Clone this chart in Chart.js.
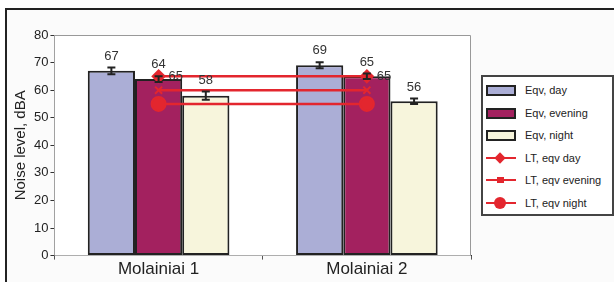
<!DOCTYPE html>
<html>
<head>
<meta charset="utf-8">
<script src="https://cdn.jsdelivr.net/npm/chart.js@4/dist/chart.umd.min.js"></script>
<style>
	html, body { margin: 0; padding: 0; background: #fff; }
	#wrap { position: relative; width: 614px; height: 282px; overflow: hidden; }
	#frame { position: absolute; left: 5px; top: 8px; width: 620px; height: 290px;
		border-top: 2px solid #222; border-left: 2px solid #222; background: #fbfbfb; }
	#resultGraph { position: absolute; left: 0; top: 0; }
	#legend { position: absolute; left: 481px; top: 75px; width: 129px; height: 137px;
		border: 2px solid #444; background: #fff; font-family: 'Liberation Sans', Arial, sans-serif;
		font-size: 11px; color: #222; }
	.item { position: absolute; left: 3px; height: 14px; line-height: 14px; white-space: nowrap; }
	.sw { position: absolute; left: 0; top: 2px; width: 26px; height: 7px; border: 2px solid #222; }
	.ln { position: absolute; left: 0; top: 6px; width: 30px; height: 2px; background: #e3262e; }
	.mk { position: absolute; background: #e3262e; }
	.txt { position: absolute; left: 39px; top: 0; }
</style>
</head>
<body>
<div id="wrap">
	<div id="frame"></div>
	<canvas id="resultGraph" width="614" height="282"></canvas>
	<div id="legend"></div>
</div>
<script>
'use strict';

const categories = ['Molainiai 1', 'Molainiai 2'];
const eqvDay = [67, 69];
const eqvEvening = [64, 65];
const eqvNight = [58, 56];
const errDay = [1.2, 1.1];
const errEvening = [1, 1];
const errNight = [1.5, 1];
const ltDay = [65, 65];
const ltEvening = [60, 60];
const ltNight = [55, 55];
const yMin = 0;
const yMax = 80;
const yStep = 10;

const red = '#e3262e';
const ink = '#222';

// error bars + value labels
const extras = {
	id: 'extras',
	beforeDatasetsDraw(chart) {
		const a = chart.chartArea;
		const c = chart.ctx;
		c.save();
		c.fillStyle = '#fff';
		c.fillRect(a.left, a.top, a.right - a.left, a.bottom - a.top);
		c.restore();
	},
	afterDatasetsDraw(chart) {
		const c = chart.ctx;
		const y = chart.scales.y;
		c.save();
		c.font = '13px "Liberation Sans", Arial, sans-serif';
		c.fillStyle = '#333';
		chart.data.datasets.forEach((ds, i) => {
			const meta = chart.getDatasetMeta(i);
			if (ds.type === 'line') {
				if (!ds.showLabel) return;
				meta.data.forEach((pt, j) => {
					c.textAlign = 'left';
					c.textBaseline = 'middle';
					c.fillText(ds.data[j], pt.x + 10, pt.y);
				});
				return;
			}
			meta.data.forEach((bar, j) => {
				const v = ds.data[j];
				const e = ds.err[j];
				const top = y.getPixelForValue(v + e);
				const bot = y.getPixelForValue(v - e);
				c.strokeStyle = ink;
				c.lineWidth = 2;
				c.beginPath();
				c.moveTo(bar.x, top); c.lineTo(bar.x, bot);
				c.moveTo(bar.x - 4, top); c.lineTo(bar.x + 4, top);
				c.moveTo(bar.x - 4, bot); c.lineTo(bar.x + 4, bot);
				c.stroke();
				c.textAlign = 'center';
				c.textBaseline = 'bottom';
				c.fillText(v, bar.x, top - 5);
			});
		});
		c.restore();
	},
	afterDraw(chart) {
		const a = chart.chartArea;
		const c = chart.ctx;
		c.save();
		c.strokeStyle = '#999';
		c.lineWidth = 1;
		c.beginPath();
		c.moveTo(a.left, a.top + 0.5); c.lineTo(a.right - 0.5, a.top + 0.5);
		c.lineTo(a.right - 0.5, a.bottom);
		c.stroke();
		c.restore();
	}
};

function barSet(label, data, err, color) {
	return {
		type: 'bar', label: label, data: data, err: err,
		backgroundColor: color, borderColor: ink, borderWidth: 2,
		borderSkipped: false, order: 2,
		barPercentage: 1, categoryPercentage: 0.68
	};
}
function lineSet(label, data, style, radius, showLabel) {
	return {
		type: 'line', label: label, data: data, showLabel: showLabel,
		borderColor: red, backgroundColor: red, borderWidth: 2.5,
		pointStyle: style, pointRadius: radius, pointBorderWidth: 2,
		pointBorderColor: red, pointBackgroundColor: red, order: 0
	};
}

let config = {
	data: {
		labels: categories,
		datasets: [
			barSet('Eqv, day', eqvDay, errDay, '#abaed6'),
			barSet('Eqv, evening', eqvEvening, errEvening, '#a3215f'),
			barSet('Eqv, night', eqvNight, errNight, '#f7f5dc'),
			lineSet('LT, eqv day', ltDay, 'rectRot', 6, true),
			lineSet('LT, eqv evening', ltEvening, 'crossRot', 5, false),
			lineSet('LT, eqv night', ltNight, 'circle', 7, false)
		]
	},
	options: {
		responsive: false,
		animation: false,
		layout: { padding: { left: 10, top: 35, right: 143, bottom: 2 } },
		plugins: { legend: { display: false }, tooltip: { enabled: false } },
		scales: {
			x: {
				grid: { drawOnChartArea: false, offset: true, tickLength: 4, tickColor: '#555' },
				border: { color: '#333', width: 1 },
				ticks: { color: ink, padding: 0, font: { family: '"Liberation Sans", Arial', size: 17 } }
			},
			y: {
				min: yMin, max: yMax,
				ticks: { stepSize: yStep, color: ink, padding: 2, font: { family: '"Liberation Sans", Arial', size: 13 } },
				grid: { color: '#999', tickLength: 4, tickColor: '#333' },
				border: { color: '#333', width: 1 },
				title: { display: true, text: 'Noise level, dBA', color: ink, padding: 2,
					font: { family: '"Liberation Sans", Arial', size: 15 } }
			}
		}
	},
	plugins: [extras]
};

function buildLegend(chart) {
	const box = document.getElementById('legend');
	const marks = {
		rectRot: 'left:10px;top:-3px;width:8px;height:8px;transform:rotate(45deg);',
		crossRot: 'left:11px;top:-2px;width:7px;height:6px;',
		circle: 'left:8px;top:-5px;width:12px;height:12px;border-radius:50%;'
	};
	chart.data.datasets.forEach((ds, i) => {
		const row = document.createElement('div');
		row.className = 'item';
		row.style.top = (6 + i * 22.6) + 'px';
		let sw;
		if (ds.type === 'bar') {
			sw = '<div class="sw" style="background:' + ds.backgroundColor + '"></div>';
		} else {
			sw = '<div class="ln"><div class="mk" style="' + marks[ds.pointStyle] + '"></div></div>';
		}
		row.innerHTML = sw + '<span class="txt">' + ds.label + '</span>';
		box.appendChild(row);
	});
}

window.addEventListener('load', function() {
	let ctx = document.getElementById('resultGraph').getContext('2d');
	const resultGraph = new Chart(ctx, config);
	buildLegend(resultGraph);
}, false);
</script>
</body>
</html>
